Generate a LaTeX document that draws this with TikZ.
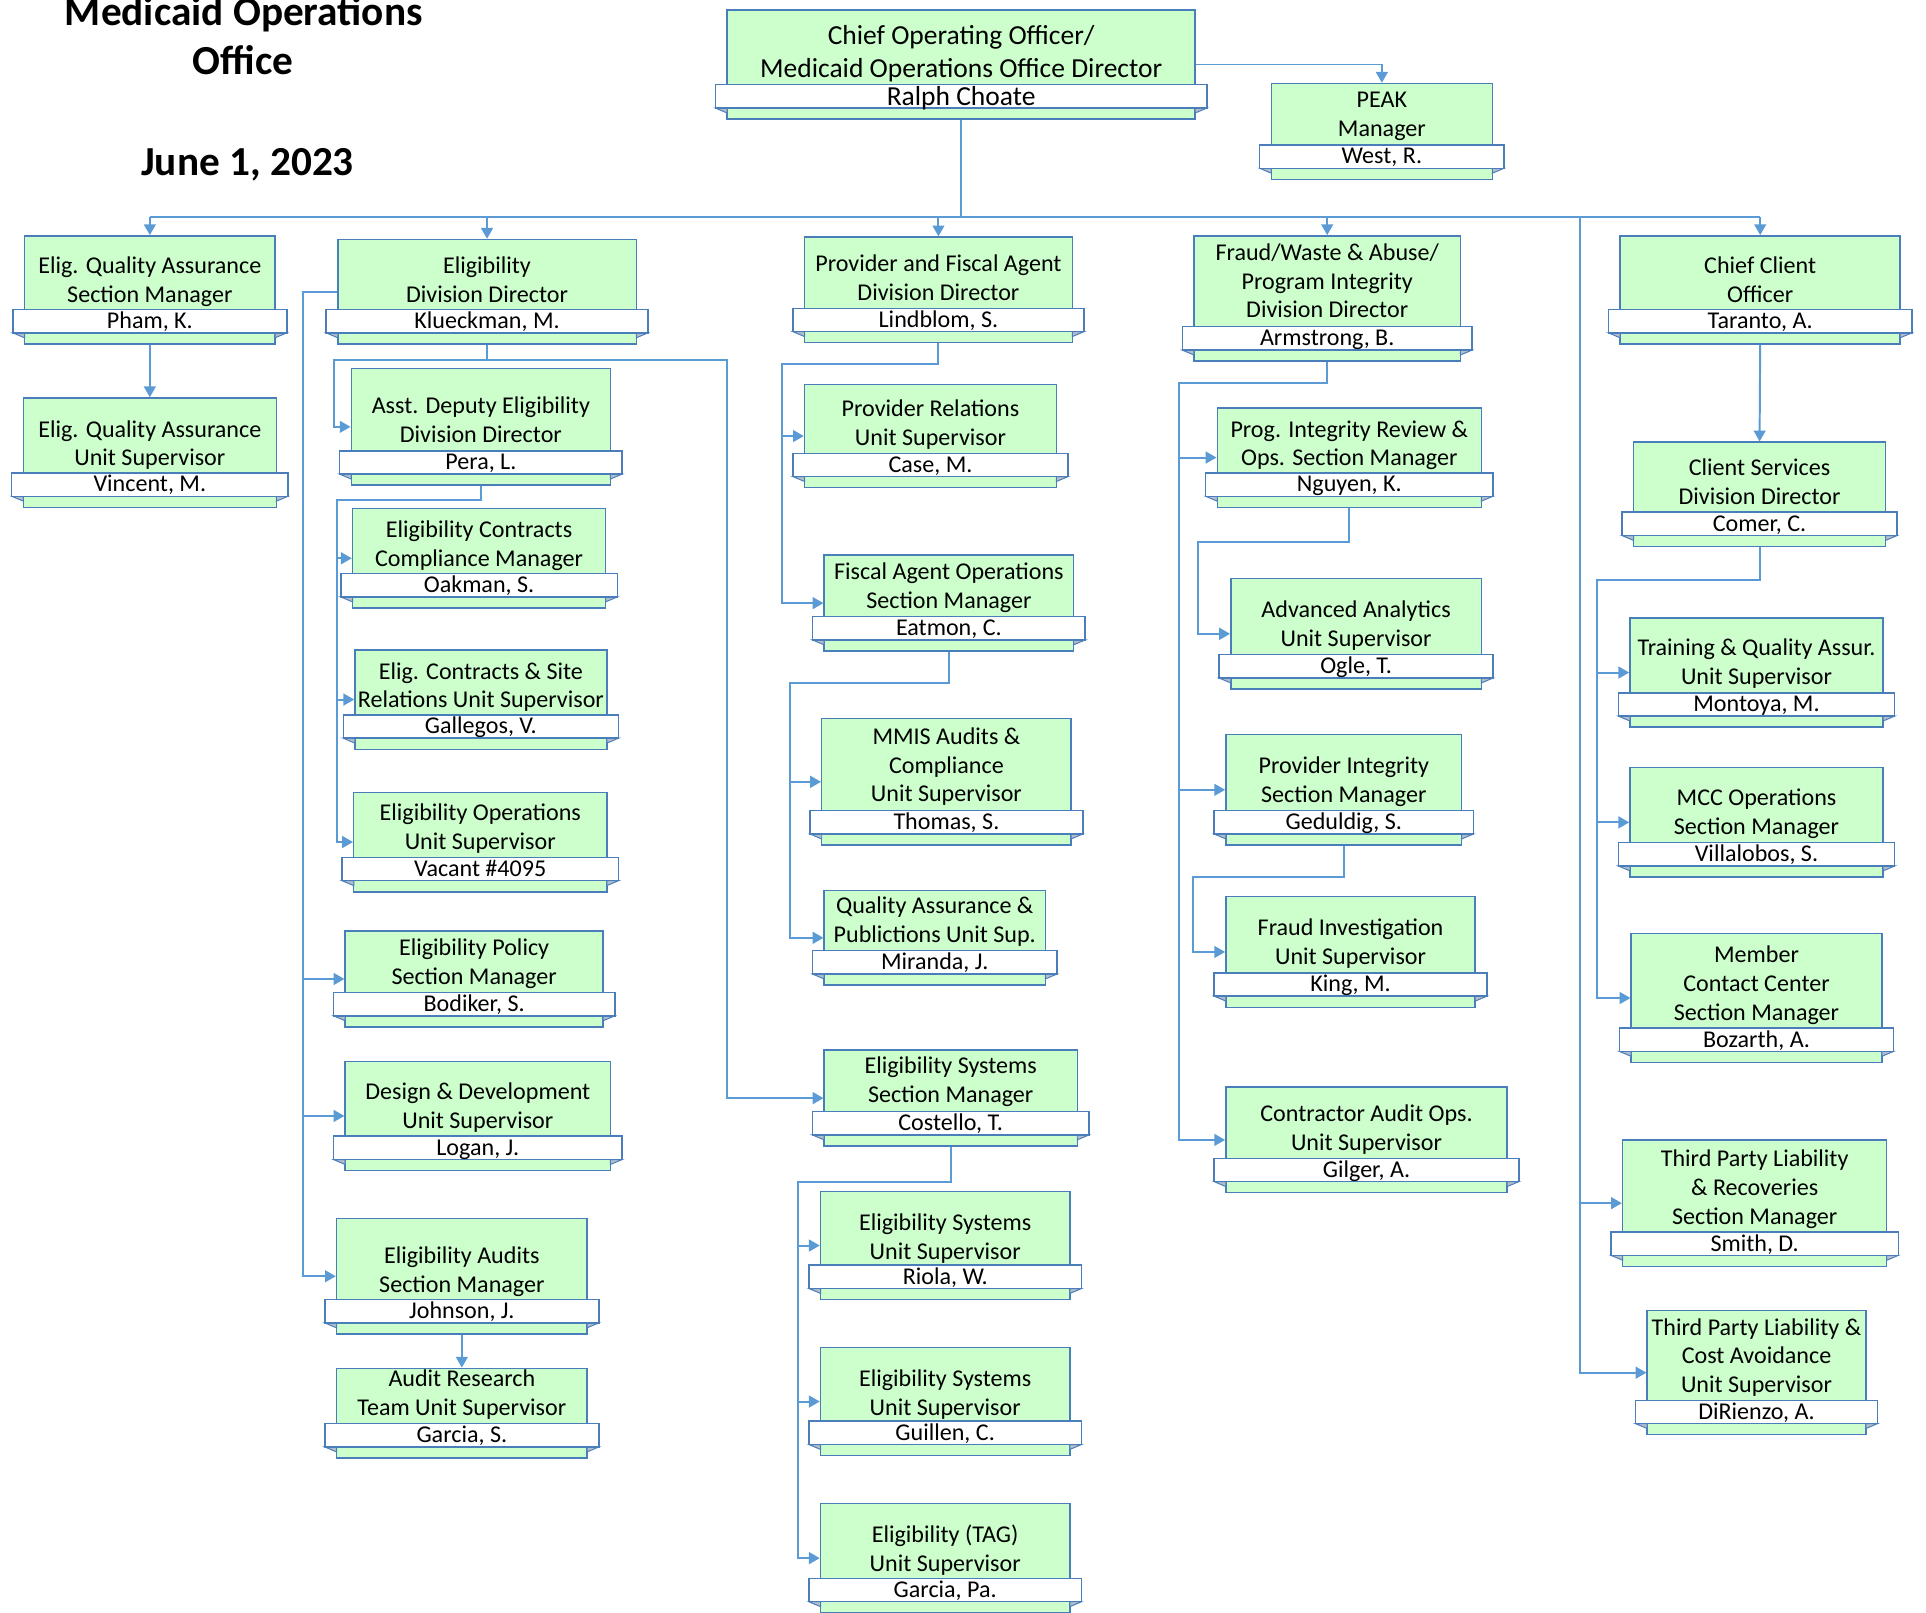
\documentclass[tikz,border=0pt]{standalone}
\usepackage{fontspec}
\setmainfont{Carlito}
\usepackage{tikz}
\usetikzlibrary{arrows.meta}

\definecolor{cardgreen}{HTML}{CCFFCC}
\definecolor{boxline}{HTML}{4A7EBB}
\definecolor{linkblue}{HTML}{5B9BD5}
\definecolor{foldgray}{HTML}{B4BCCB}

\newcommand{\postfont}{\fontsize{9.8}{11.75}\selectfont}
\newcommand{\coofont}{\fontsize{11.2}{13.5}\selectfont}
\newcommand{\headfont}{\fontsize{16.8}{20}\selectfont\bfseries}

% name, left, right, top, bottom, first line y, title, person
\newcommand{\orgpost}[8]{%
  \node[card, minimum width={(#3-#2)*0.5pt}, minimum height={(#5-#4)*0.5pt}] (#1) at ({(#2+#3)/2},{(#4+#5)/2}) {};
  \filldraw[foldtip] (#2-9.5,#5-9) -- (#2,#5-9) -- (#2,#5-5) -- cycle;
  \filldraw[foldtip] (#3+9.5,#5-9) -- (#3,#5-9) -- (#3,#5-5) -- cycle;
  \node[namebar, minimum width={(#3-#2+19)*0.5pt}] (#1-name) at ({(#2+#3)/2},#5-18.5) {#8};
  \node[posttext] (#1-title) at ({(#2+#3)/2},#6) {\strut #7};
}

\tikzset{
  card/.style={draw=boxline, fill=cardgreen, line width=0.6pt, inner sep=0pt},
  foldtip/.style={draw=boxline, fill=foldgray, line width=0.4pt},
  namebar/.style={draw=boxline, fill=white, line width=0.6pt, minimum height=9.5pt,
    inner sep=0pt, font=\postfont, text height=6pt, text depth=0pt},
  posttext/.style={font=\postfont, align=center, inner sep=0pt, anchor=north, yshift=5.5pt},
  orgline/.style={draw=linkblue, line width=0.8pt},
  orgarrow/.style={orgline, -{Triangle[length=4.4pt,width=4.8pt]}},
  heading/.style={font=\headfont, anchor=base, inner sep=0pt}
}

\begin{document}
\begin{tikzpicture}[x=0.5pt, y=-0.5pt]
  \useasboundingbox (0,0) rectangle (1568,1313);

  \node[heading] (head1) at (198.5,20.4) {Medicaid Operations};
  \node[heading] (head2) at (198,60.4) {Office};
  \node[heading] (date) at (201.5,142.5) {June 1, 2023};

  % top
  \begin{scope}[posttext/.style={font=\coofont, align=center, inner sep=0pt, anchor=north, yshift=6.2pt},
                namebar/.append style={font=\coofont, text height=7pt}]
    \orgpost{coo}{592}{973}{8}{97}{29}{Chief Operating Officer/\\Medicaid Operations Office Director}{Ralph Choate}
  \end{scope}
  \orgpost{peak}{1035}{1215}{68}{146}{82}{PEAK\\Manager}{West, R.}

  % quality assurance
  \orgpost{eqa}{20}{224}{192}{280}{217}{Elig. Quality Assurance\\Section Manager}{Pham, K.}
  \orgpost{equ}{19}{225}{324}{413}{350}{Elig. Quality Assurance\\Unit Supervisor}{Vincent, M.}

  % eligibility
  \orgpost{elig}{275}{518}{195}{280}{217}{Eligibility\\Division Director}{Klueckman, M.}
  \orgpost{asst}{286}{497}{300}{395}{331}{Asst. Deputy Eligibility\\Division Director}{Pera, L.}
  \orgpost{ecc}{287}{493}{414}{495}{432}{Eligibility Contracts\\Compliance Manager}{Oakman, S.}
  \orgpost{ecs}{289}{494}{529}{610}{547}{Elig. Contracts \& Site\\Relations Unit Supervisor}{Gallegos, V.}
  \orgpost{eop}{288}{494}{645}{726}{662}{Eligibility Operations\\Unit Supervisor}{Vacant \#4095}
  \orgpost{policy}{281}{491}{758}{836}{772}{Eligibility Policy\\Section Manager}{Bodiker, S.}
  \orgpost{design}{281}{497}{864}{953}{889}{Design \& Development\\Unit Supervisor}{Logan, J.}
  \orgpost{audits}{274}{478}{992}{1086}{1023}{Eligibility Audits\\Section Manager}{Johnson, J.}
  \orgpost{ars}{274}{478}{1114}{1187}{1123}{Audit Research\\Team Unit Supervisor}{Garcia, S.}

  % provider and fiscal agent
  \orgpost{pfa}{655}{873}{193}{279}{215}{Provider and Fiscal Agent\\Division Director}{Lindblom, S.}
  \orgpost{prs}{655}{860}{313}{397}{333}{Provider Relations\\Unit Supervisor}{Case, M.}
  \orgpost{fao}{671}{874}{452}{530}{466}{Fiscal Agent Operations\\Section Manager}{Eatmon, C.}
  \orgpost{mmis}{669}{872}{585}{688}{600}{MMIS Audits \&\\Compliance\\Unit Supervisor}{Thomas, S.}
  \orgpost{qap}{671}{851}{725}{802}{738}{Quality Assurance \&\\Publictions Unit Sup.}{Miranda, J.}
  \orgpost{syssec}{671}{877}{855}{933}{868}{Eligibility Systems\\Section Manager}{Costello, T.}
  \orgpost{esu1}{668}{871}{970}{1058}{996}{Eligibility Systems\\Unit Supervisor}{Riola, W.}
  \orgpost{esu2}{668}{871}{1097}{1185}{1123}{Eligibility Systems\\Unit Supervisor}{Guillen, C.}
  \orgpost{tag}{668}{871}{1224}{1313}{1250}{Eligibility (TAG)\\Unit Supervisor}{Garcia, Pa.}

  % program integrity
  \orgpost{fwa}{972}{1189}{192}{294}{206}{Fraud/Waste \& Abuse/\\Program Integrity\\Division Director}{Armstrong, B.}
  \orgpost{pir}{991}{1206}{332}{413}{350}{Prog. Integrity Review \&\\Ops. Section Manager}{Nguyen, K.}
  \orgpost{aau}{1002}{1206}{471}{561}{497}{Advanced Analytics\\Unit Supervisor}{Ogle, T.}
  \orgpost{pis}{998}{1190}{598}{688}{624}{Provider Integrity\\Section Manager}{Geduldig, S.}
  \orgpost{fiu}{998}{1201}{730}{820}{756}{Fraud Investigation\\Unit Supervisor}{King, M.}
  \orgpost{cao}{998}{1227}{885}{971}{907}{Contractor Audit Ops.\\Unit Supervisor}{Gilger, A.}

  % client
  \orgpost{cco}{1319}{1547}{192}{280}{217}{Chief Client\\Officer}{Taranto, A.}
  \orgpost{csd}{1330}{1535}{360}{445}{381}{Client Services\\Division Director}{Comer, C.}
  \orgpost{tqa}{1327}{1533}{503}{592}{528}{Training \& Quality Assur.\\Unit Supervisor}{Montoya, M.}
  \orgpost{mcc}{1327}{1533}{625}{714}{650}{MCC Operations\\Section Manager}{Villalobos, S.}
  \orgpost{mcs}{1328}{1532}{760}{865}{778}{Member\\Contact Center\\Section Manager}{Bozarth, A.}
  \orgpost{tpr}{1321}{1536}{928}{1031}{944}{Third Party Liability\\\& Recoveries\\Section Manager}{Smith, D.}
  \orgpost{tpc}{1341}{1519}{1067}{1168}{1081}{Third Party Liability \&\\Cost Avoidance\\Unit Supervisor}{DiRienzo, A.}

  % junctions
  \coordinate (bus) at (782,177);
  \coordinate (tp-j) at (1286,177);
  \coordinate (elig-w) at (247,237.5);
  \coordinate (elig-j) at (272,293);
  \coordinate (elig-k) at (592,293);
  \coordinate (asst-j) at (274,407);
  \coordinate (pfa-j) at (637,296);
  \coordinate (fao-j) at (643,556);
  \coordinate (sys-j) at (650,962);
  \coordinate (fwa-j) at (960,312);
  \coordinate (pir-j) at (975,441);
  \coordinate (pis-j) at (971,714);
  \coordinate (csd-j) at (1300,472);

  % connectors
  \draw[orgarrow] (coo.east) -| (peak.north);
  \draw[orgline] (coo.south) -- (coo.south |- bus);
  \draw[orgline] (eqa.north |- bus) -- (cco.north |- bus);
  \draw[orgline] (eqa.north |- bus) edge[orgarrow] (eqa.north)
                 (elig.north |- bus) edge[orgarrow] (elig.north)
                 (pfa.north |- bus) edge[orgarrow] (pfa.north)
                 (fwa.north |- bus) edge[orgarrow] (fwa.north)
                 (cco.north |- bus) edge[orgarrow] (cco.north);
  \draw[orgarrow] (tp-j) |- (tpr.west);
  \draw[orgarrow] (tp-j) |- (tpc.west);

  \draw[orgarrow] (eqa.south) -- (equ.north);

  \draw[orgarrow] (elig.west) -- (elig-w) |- (policy.west);
  \draw[orgarrow] (elig-w) |- (design.west);
  \draw[orgarrow] (elig-w) |- (audits.west);
  \draw[orgarrow] (elig.south) |- (elig-j) |- (asst.west);
  \draw[orgarrow] (elig.south |- elig-j) -- (elig-k) |- (syssec.west);
  \draw[orgarrow] (asst.south) |- (asst-j) |- (ecc.west);
  \draw[orgarrow] (asst-j) |- (ecs.west);
  \draw[orgarrow] (asst-j) |- (eop.west);
  \draw[orgarrow] (audits.south) -- (ars.north);

  \draw[orgarrow] (pfa.south) |- (pfa-j) |- (prs.west);
  \draw[orgarrow] (pfa-j) |- (fao.west);
  \draw[orgarrow] (fao.south) |- (fao-j) |- (mmis.west);
  \draw[orgarrow] (fao-j) |- (qap.west);
  \draw[orgarrow] (syssec.south) |- (sys-j) |- (esu1.west);
  \draw[orgarrow] (sys-j) |- (esu2.west);
  \draw[orgarrow] (sys-j) |- (tag.west);

  \draw[orgarrow] (fwa.south) |- (fwa-j) |- (pir.west);
  \draw[orgarrow] (fwa-j) |- (pis.west);
  \draw[orgarrow] (fwa-j) |- (cao.west);
  \draw[orgarrow] (pir.south) |- (pir-j) |- (aau.west);
  \draw[orgarrow] (pis.south) |- (pis-j) |- (fiu.west);

  \draw[orgarrow] (cco.south) -- (csd.north);
  \draw[orgarrow] (csd.south) |- (csd-j) |- (tqa.west);
  \draw[orgarrow] (csd-j) |- (mcc.west);
  \draw[orgarrow] (csd-j) |- (mcs.west);
\end{tikzpicture}
\end{document}
